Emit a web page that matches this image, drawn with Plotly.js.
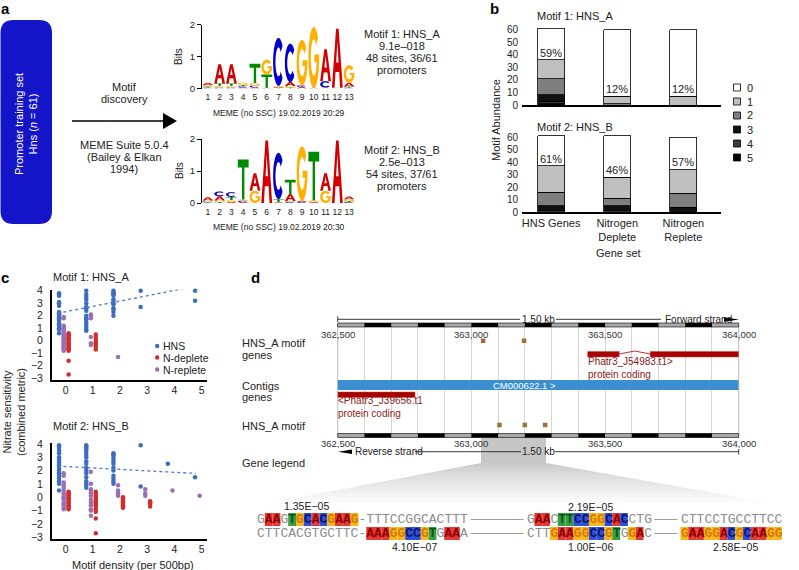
<!DOCTYPE html>
<html>
<head>
<meta charset="utf-8">
<script src="https://cdn.plot.ly/plotly-3.0.1.min.js"></script>
<style>html,body{margin:0;padding:0;background:#fff;}#chart{width:799px;height:570px;}</style>
</head>
<body>
<div id="chart"></div>
<script>
// ================= DATA =================
// Panel a: sequence logos (bits per base at motif positions 1..13)
const logoPositions = [1,2,3,4,5,6,7,8,9,10,11,12,13];
const logoA_A = [0.07,0.60,0.60,0.03,0.03,0.02,0.03,0.12,0.05,0.02,1.00,1.85,0.12];
const logoA_C = [0.03,0.03,0.03,0.04,0.06,0.00,1.50,1.20,0.05,0.00,0.20,0.00,0.03];
const logoA_G = [0.05,0.05,0.05,0.07,0.08,0.46,0.03,0.05,1.42,1.90,0.03,0.02,0.55];
const logoA_T = [0.03,0.08,0.08,0.04,0.60,0.42,0.02,0.03,0.00,0.00,0.00,0.00,0.03];
const logoB_A = [0.10,0.13,0.03,0.03,0.55,1.95,0.02,0.22,0.04,0.03,0.55,1.95,0.08];
const logoB_C = [0.03,0.15,0.15,0.04,0.00,0.00,1.45,0.03,0.03,0.00,0.00,0.00,0.03];
const logoB_G = [0.03,0.05,0.06,0.04,0.38,0.00,0.00,0.03,1.70,0.05,0.38,0.00,0.06];
const logoB_T = [0.02,0.03,0.10,1.25,0.00,0.00,0.10,0.45,0.00,1.52,0.00,0.00,0.03];

// Panel b: motif abundance (number of promoters with 0..5 motifs)
const geneSets = ['HNS Genes','Nitrogen<br>Deplete','Nitrogen<br>Replete'];
const abundanceLevels = ['0','1','2','3','4','5'];
const motifA_n0 = [25,53,53], motifA_n1 = [15,6,7], motifA_n2 = [13,1,0],
      motifA_n3 = [5,0,0],   motifA_n4 = [2,0,0],  motifA_n5 = [1,0,0];
const motifB_n0 = [24,33,26], motifB_n1 = [21,17,19], motifB_n2 = [11,6,11],
      motifB_n3 = [4,4,4],    motifB_n4 = [1,1,0],    motifB_n5 = [0,0,0];

// Panel c: nitrate sensitivity by motif density (index = motifs per 500bp)
const sensA_HNS = [
  [3.8,3.7,3.6,3.1,3.0,2.8,2.3,2.2,2.1,2.0,1.9,1.8,1.7,1.6,1.4,1.3,1.2,1.0,0.9,0.6],
  [4.0,3.7,3.5,3.3,3.0,2.7,2.6,2.4,2.0,1.8,1.7,1.5,1.3,1.1,0.9,0.8],
  [4.0,3.9,3.8,3.7,3.6,3.3,3.2,3.0,2.9,2.6,2.5,2.3,2.0],
  [4.0,2.7], [], [4.0,3.2]];
const sensA_Ndeplete = [
  [0.6,0.5,0.4,0.3,0.2,0.1,0.0,-0.1,-0.2,-0.3,-0.4,-0.5,-0.6,-0.7,-0.8,-1.6,-2.7],
  [0.5,0.3,0.1,-0.1,-0.2,-0.35,-0.5,-0.7], [], [], [], []];
const sensA_Nreplete = [
  [1.9,1.8,1.2,1.1,1.0,0.9,0.8,0.7,0.6,0.5,0.4,0.3,0.2,0.1,0.0,-0.1,-0.2,-0.3,-0.4,-0.5,-0.6,-0.7,-0.8],
  [2.1,2.0,1.8,0.3,-0.2,-0.35], [-1.3], [], [], []];
const sensB_HNS = [
  [3.9,3.8,3.7,3.5,3.3,3.0,2.8,2.6,2.4,2.2,2.0,1.8,1.6,1.4,1.2,1.0,0.5],
  [3.9,3.8,3.7,3.6,3.4,3.2,3.0,2.7,2.5,2.2,2.0,1.8,1.5,1.2,1.0,0.9,0.7],
  [3.3,3.2,3.1,2.9,2.7,2.5,2.2,2.0,1.6,1.4,1.2,1.0],
  [3.9,0.8], [2.5], [1.5]];
const sensB_Ndeplete = [
  [0.4,0.3,0.2,0.1,0.0,-0.1,-0.2,-0.3,-0.4,-0.5,-0.6,-0.7,-0.8,-0.9],
  [0.4,0.3,0.1,0.0,-0.2,-0.3,-0.4,-0.5,-0.6,-0.7,-0.9,-1.1,-1.6,-2.7],
  [0.0,-0.1,-0.2,-0.3,-0.4,-0.5,-0.6,-0.7,-0.8],
  [-0.3,-0.4,-0.5,-0.7], [], []];
const sensB_Nreplete = [
  [1.8,1.6,1.1,0.9,0.7,0.5,0.3,0.1,0.0,-0.1,-0.2,-0.4,-0.5,-0.6,-0.8,-0.9],
  [1.9,1.0,0.6,0.5,0.3,0.1,-0.2,-0.4,-0.6,-0.9,-1.0,-1.4],
  [0.9,0.5,0.3,0.1], [0.6,0.3,0.1], [0.5], [0.1]];
const trendA_x = [-0.3, 4.3], trendA_y = [2.2, 4.15];
const trendB_x = [-0.3, 4.8], trendB_y = [2.33, 1.78];
const densityTicks = [0,1,2,3,4,5];
const sensTicks = [-3,-2,-1,0,1,2,3,4];

// Panel d: genome browser (bp)
const browserRange = [362500, 364000];
const rulerTicks = [362500, 363000, 363500, 364000];
const motifGeneTrackSites = [363044, 363197];
const motifTrackSites = [363105, 363200, 363276];
const geneJ54983_exonStart = [363435, 363669];
const geneJ54983_exonEnd = [363553, 364000];
const geneJ39656_span = [362500, 362789];
const contigSpan = [362500, 364000];
const zoomRegion = [363036, 363279];
const seqRow1 = ['GAAGTGCACGAAG-TTTCCGGCACTTT','GAACTTCCGGCACCTG','CTTCCTGCCTTCC'];
const seqRow1Mask = ['0110111111111-0000000000000','0110111111111000','0000000000000'];
const seqRow2 = ['CTTCACGTGCTTC-AAAGGCCGTGAAA','CTTGAAGGCCGTGGAC','GAAGGACGCAAGG'];
const seqRow2Mask = ['0000000000000-1111111110110','0001111111110110','1111111111111'];
const pvalTop = ['1.35E\u221205','2.19E\u221205'];
const pvalBottom = ['4.10E\u221207','1.00E\u221206','2.58E\u221205'];

// ================= HELPERS =================
const W = 799, H = 570;
const X = p => p / W, Y = p => 1 - p / H;
const FONT = 'Liberation Sans, Arial, Helvetica, sans-serif';
const traces = [], shapes = [], annotations = [];
function txt(text, x, y, o) {
  o = o || {};
  const a = {text: o.bold ? '<b>' + text + '</b>' : text, xref:'paper', yref:'paper', x:X(x), y:Y(y),
    showarrow:false, xanchor:o.xanchor||'center', yanchor:o.yanchor||'middle', borderpad:0, borderwidth:0,
    font:{family:o.family||FONT, size:o.size||11, color:o.color||'#222'}};
  if (o.textangle !== undefined) a.textangle = o.textangle;
  annotations.push(a);
}
function P(pts){ return pts.map((p,i)=>(i?'L':'M')+X(p[0]).toFixed(5)+','+Y(p[1]).toFixed(5)).join(' ')+' Z'; }
function pathShape(pts, color, layer){ shapes.push({type:'path', xref:'paper', yref:'paper', path:P(pts), fillcolor:color, line:{width:0}, layer:layer||'above'}); }
function lineShape(x0,y0,x1,y1,color,w,dash){ shapes.push({type:'line', xref:'paper', yref:'paper', x0:X(x0), y0:Y(y0), x1:X(x1), y1:Y(y1), line:{color:color, width:w, dash:dash||'solid'}}); }
function rectShape(x0,y0,x1,y1,fill,lc,lw){ shapes.push({type:'rect', xref:'paper', yref:'paper', x0:X(x0), y0:Y(y1), x1:X(x1), y1:Y(y0), fillcolor:fill, line:{color:lc||fill, width:lw||0}}); }
const axBase = {showgrid:false, zeroline:false, fixedrange:true};
const layout = {width:W, height:H, margin:{l:0,r:0,t:0,b:0}, paper_bgcolor:'#fff', plot_bgcolor:'rgba(0,0,0,0)',
  showlegend:false, barmode:'stack', font:{family:FONT, size:11, color:'#222'}};

// ================= PANEL A =================
txt('a', 5, 8, {bold:true, size:15, color:'#000'});
(function(){
  const x0=0.5,y0=20,x1=52,y1=224,r=13;
  const q=(a,b)=>X(a).toFixed(5)+','+Y(b).toFixed(5);
  const path = 'M'+q(x0+r,y0)+' L'+q(x1-r,y0)+' Q'+q(x1,y0)+' '+q(x1,y0+r)+' L'+q(x1,y1-r)+' Q'+q(x1,y1)+' '+q(x1-r,y1)+
    ' L'+q(x0+r,y1)+' Q'+q(x0,y1)+' '+q(x0,y1-r)+' L'+q(x0,y0+r)+' Q'+q(x0,y0)+' '+q(x0+r,y0)+' Z';
  shapes.push({type:'path', xref:'paper', yref:'paper', path:path, fillcolor:'#1414c8', line:{width:0}, layer:'below'});
})();
txt('Promoter training set<br>Hns (<i>n</i> = 61)', 26, 124, {textangle:-90, color:'#ffffff', size:11});
lineShape(72,121,165,121,'#000',1.6);
pathShape([[163,113],[177,121],[163,129]], '#000');
txt('Motif', 124, 87); txt('discovery', 124, 99);
txt('MEME Suite 5.0.4', 124, 145); txt('(Bailey &amp; Elkan', 124, 157); txt('1994)', 124, 169);

const baseColor = {A:'#d40000', C:'#0000c8', G:'#ffb000', T:'#008a00'};
function glyph(L){
  const E=(cx,cy,rx,ry,t)=>[cx+rx*Math.cos(t*Math.PI/180), cy+ry*Math.sin(t*Math.PI/180)];
  if(L==='A') return [[[0,0],[0.38,1],[0.62,1],[1,0],[0.76,0],[0.67,0.27],[0.33,0.27],[0.24,0]],[[0.39,0.43],[0.5,0.78],[0.61,0.43]]];
  if(L==='T') return [[[0,1],[1,1],[1,0.8],[0.61,0.8],[0.61,0],[0.39,0],[0.39,0.8],[0,0.8]]];
  if(L==='C'){ const p=[]; for(let t=42;t<=318;t+=6) p.push(E(0.5,0.5,0.5,0.5,t)); for(let t=318;t>=42;t-=6) p.push(E(0.5,0.5,0.28,0.3,t)); return [p]; }
  const p=[]; for(let t=40;t<=360;t+=6) p.push(E(0.5,0.5,0.5,0.5,t));
  p.push([1,0.55],[0.55,0.55],[0.55,0.42],[0.79,0.42]);
  for(let t=335;t>=40;t-=6) p.push(E(0.5,0.5,0.28,0.3,t));
  return [p];
}
function addLogo(xa, ya, arrA, arrC, arrG, arrT){
  logoPositions.forEach((pos,i)=>{
    const stack=[['A',arrA[i]],['C',arrC[i]],['G',arrG[i]],['T',arrT[i]]].filter(s=>s[1]>0.004).sort((a,b)=>a[1]-b[1]);
    let base=0;
    stack.forEach(([L,h])=>{
      const path = glyph(L).map(poly=>poly.map((uv,k)=>(k?'L':'M')+(pos-0.46+uv[0]*0.92).toFixed(4)+','+(base+uv[1]*h).toFixed(4)).join(' ')+' Z').join(' ');
      shapes.push({type:'path', xref:xa, yref:ya, path:path, fillcolor:baseColor[L], line:{width:0}, fillrule:'evenodd'});
      base+=h;
    });
  });
  traces.push({type:'scatter', x:logoPositions, y:logoPositions.map((p,i)=>arrA[i]+arrC[i]+arrG[i]+arrT[i]), mode:'markers',
    marker:{opacity:0}, xaxis:xa, yaxis:ya, hoverinfo:'skip'});
}
addLogo('x','y',logoA_A,logoA_C,logoA_G,logoA_T);
addLogo('x2','y2',logoB_A,logoB_C,logoB_G,logoB_T);
const logoX = () => Object.assign({}, axBase, {domain:[X(202),X(355)], range:[0.5,13.5], tickvals:logoPositions, ticks:'', showline:false, tickfont:{size:8.5, color:'#222'}, ticklabelstandoff:2});
const logoY = d => Object.assign({}, axBase, {domain:d, range:[0,2], tickvals:[0,1,2], ticks:'outside', ticklen:4, tickcolor:'#000', showline:true, linecolor:'#000', linewidth:1, tickfont:{size:9.5, color:'#222'}});
layout.xaxis = Object.assign(logoX(), {anchor:'y'});
layout.yaxis = Object.assign(logoY([Y(88.5),Y(24.5)]), {anchor:'x'});
layout.xaxis2 = Object.assign(logoX(), {anchor:'y2'});
layout.yaxis2 = Object.assign(logoY([Y(203),Y(139)]), {anchor:'x2'});
txt('Bits', 179, 57, {textangle:-90, size:10});
txt('Bits', 179, 171, {textangle:-90, size:10});
txt('MEME (no SSC) 19.02.2019 20:29', 279, 113, {size:8.5});
txt('MEME (no SSC) 19.02.2019 20:30', 279, 227, {size:8.5});
txt('Motif 1: HNS_A', 402, 34); txt('9.1e\u2013018', 402, 46); txt('48 sites, 36/61', 402, 58); txt('promoters', 402, 70);
txt('Motif 2: HNS_B', 402, 150); txt('2.5e\u2013013', 402, 162); txt('54 sites, 37/61', 402, 174); txt('promoters', 402, 186);

// ================= PANEL B =================
txt('b', 494, 8, {bold:true, size:15, color:'#000'});
const levelColors = ['#ffffff','#bfbfbf','#7f7f7f','#111111','#3a3a3a','#000000'];
const motifA_counts = [motifA_n0,motifA_n1,motifA_n2,motifA_n3,motifA_n4,motifA_n5];
const motifB_counts = [motifB_n0,motifB_n1,motifB_n2,motifB_n3,motifB_n4,motifB_n5];
function addBars(counts, xa, ya){
  for(let k=5;k>=0;k--){
    traces.push({type:'bar', x:geneSets, y:counts[k], name:abundanceLevels[k], xaxis:xa, yaxis:ya, width:0.41,
      marker:{color:levelColors[k], line:{color:'#000', width:0.8}}, hoverinfo:'skip'});
  }
  geneSets.forEach((g,i)=>{
    const total = counts.reduce((s,c)=>s+c[i],0), nonzero = total-counts[0][i];
    annotations.push({text:Math.round(100*nonzero/total)+'%', xref:xa, yref:ya, x:i, y:nonzero, yanchor:'bottom', yshift:1,
      showarrow:false, borderpad:0, borderwidth:0, font:{family:FONT, size:11, color:'#222'}});
  });
}
addBars(motifA_counts,'x3','y3');
addBars(motifB_counts,'x4','y4');
const barX = () => Object.assign({}, axBase, {domain:[X(522),X(721)], range:[-0.44,2.57], type:'category', showline:true, linecolor:'#000', linewidth:1.8, ticks:''});
const barY = d => Object.assign({}, axBase, {domain:d, range:[0,62], tickvals:[0,10,20,30,40,50,60], ticks:'', showline:false, tickfont:{size:10, color:'#222'}, ticklabelstandoff:3});
layout.xaxis3 = Object.assign(barX(), {anchor:'y3', showticklabels:false});
layout.yaxis3 = Object.assign(barY([Y(105),Y(27)]), {anchor:'x3'});
layout.xaxis4 = Object.assign(barX(), {anchor:'y4', tickfont:{size:11, color:'#222'}});
layout.yaxis4 = Object.assign(barY([Y(212),Y(134.5)]), {anchor:'x4'});
txt('Motif 1: HNS_A', 537, 16, {xanchor:'left'});
txt('Motif 2: HNS_B', 537, 127, {xanchor:'left'});
txt('Motif Abundance', 496, 120, {textangle:-90});
txt('Gene set', 618, 253);
const legRows = [87.5,101.5,115.5,129.5,143.5,157.5];
abundanceLevels.forEach((lv,k)=>{
  rectShape(733.5, legRows[k]-3.5, 740.5, legRows[k]+3.5, levelColors[k], '#000', 0.8);
  txt(lv, 747, legRows[k], {xanchor:'left'});
});

// ================= PANEL C =================
txt('c', 5, 277, {bold:true, size:15, color:'#000'});
const seriesStyle = [
  {name:'HNS', color:'#3d6cc0', off:-0.24},
  {name:'N-deplete', color:'#cf2f2c', off:0.11},
  {name:'N-replete', color:'#9a70b2', off:-0.07}];
function flat(byD, off){ const xs=[],ys=[]; byD.forEach((arr,d)=>arr.forEach(v=>{xs.push(d+off);ys.push(v);})); return [xs,ys]; }
function addScatter(list, xa, ya, tx, ty){
  [2,1,0].forEach(si=>{
    const [xs,ys] = flat(list[si], seriesStyle[si].off);
    traces.push({type:'scatter', mode:'markers', x:xs, y:ys, xaxis:xa, yaxis:ya, name:seriesStyle[si].name,
      marker:{color:seriesStyle[si].color, size:4.5}, hoverinfo:'skip', cliponaxis:false});
  });
  traces.push({type:'scatter', mode:'lines', x:tx, y:ty, xaxis:xa, yaxis:ya, line:{color:'#4a7acb', width:1.3, dash:'dot'}, hoverinfo:'skip'});
}
addScatter([sensA_HNS,sensA_Ndeplete,sensA_Nreplete],'x5','y5',trendA_x,trendA_y);
addScatter([sensB_HNS,sensB_Ndeplete,sensB_Nreplete],'x6','y6',trendB_x,trendB_y);
const scX = () => Object.assign({}, axBase, {domain:[X(52),X(207)], range:[-0.5,5.2], tickvals:densityTicks, ticks:'', showline:true, linecolor:'#000', linewidth:2, tickfont:{size:10.5, color:'#222'}, ticklabelstandoff:0});
const scY = d => Object.assign({}, axBase, {domain:d, range:[-3.1,4.1], tickvals:sensTicks, ticks:'', showline:true, linecolor:'#000', linewidth:2, tickfont:{size:10.5, color:'#222'}, ticklabelstandoff:5});
layout.xaxis5 = Object.assign(scX(), {anchor:'y5'});
layout.yaxis5 = Object.assign(scY([Y(379.5),Y(289.5)]), {anchor:'x5'});
layout.xaxis6 = Object.assign(scX(), {anchor:'y6'});
layout.yaxis6 = Object.assign(scY([Y(538.5),Y(442.5)]), {anchor:'x6'});
txt('Motif 1: HNS_A', 91, 277);
txt('Motif 2: HNS_B', 91, 426);
txt('Nitrate sensitivity<br>(combined metric)', 14, 412, {textangle:-90});
txt('Motif density (per 500bp)', 133, 564.5);
[346, 357.5, 369.5].forEach((yy,i)=>{
  shapes.push({type:'circle', xref:'paper', yref:'paper', x0:X(155), x1:X(159.4), y0:Y(yy+2.2), y1:Y(yy-2.2), fillcolor:seriesStyle[i].color, line:{width:0}});
  txt(seriesStyle[i].name, 163, yy, {xanchor:'left', size:10.5});
});

// ================= PANEL D =================
txt('d', 255, 277, {bold:true, size:15, color:'#000'});
const BX0 = 337.7, BX1 = 738.7;
const bpToPx = bp => BX0 + (bp - browserRange[0]) * (BX1 - BX0) / (browserRange[1] - browserRange[0]);
[['HNS_A motif',342.7],['genes',355],['Contigs',386],['genes',397.5],['HNS_A motif',426],['Gene legend',462.7]].forEach(l=>txt(l[0],242,l[1],{xanchor:'left'}));
layout.xaxis7 = Object.assign({}, axBase, {domain:[X(BX0),X(BX1)], range:browserRange, anchor:'y7', showticklabels:false, ticks:'',
  showgrid:true, gridcolor:'#d6d6d6', gridwidth:1, dtick:500, tick0:browserRange[0],
  minor:{dtick:100, tick0:browserRange[0], showgrid:true, gridcolor:'#d6d6d6', gridwidth:1}, showline:false});
layout.yaxis7 = Object.assign({}, axBase, {domain:[Y(436),Y(325)], range:[436,325], anchor:'x7', visible:false});
lineShape(BX0,325,BX0,436,'#bbbbbb',1); lineShape(BX1,325,BX1,436,'#bbbbbb',1);
function ruler(yTop){
  rectShape(BX0, yTop, BX1, yTop+4, '#a8a8a8', '#000', 0.6);
  for(let b=browserRange[0], k=0; b<browserRange[1]; b+=100, k++){
    if(k%2===1) rectShape(bpToPx(b), yTop, bpToPx(b+100), yTop+4, '#000');
  }
}
ruler(323); ruler(433.5);
rulerTicks.forEach(t=>{
  const lab = t.toLocaleString('en-US');
  annotations.push({text:lab, xref:'x7', yref:'paper', x:t, y:Y(334), showarrow:false, xanchor:'center', yanchor:'middle', borderpad:0, borderwidth:0, font:{family:FONT, size:9.5, color:'#333'}});
  annotations.push({text:lab, xref:'x7', yref:'paper', x:t, y:Y(443.5), showarrow:false, xanchor:'center', yanchor:'middle', borderpad:0, borderwidth:0, font:{family:FONT, size:9.5, color:'#333'}});
});
const spanLabel = ((browserRange[1]-browserRange[0])/1000).toFixed(2)+' kb';
lineShape(BX0,319.3,520,319.3,'#222',0.9); lineShape(BX0,316.5,BX0,322,'#222',0.9);
txt(spanLabel, 538, 319.3, {size:10});
lineShape(556,319.3,661,319.3,'#222',0.9);
txt('Forward strand', 665, 319.3, {xanchor:'left', size:10});
pathShape([[724,317.2],[739,319.5],[724,321.8]], '#000');
pathShape([[338,451.7],[352,449.4],[352,454]], '#000');
txt('Reverse strand', 355, 451.7, {xanchor:'left', size:10});
lineShape(415,451.7,521,451.7,'#222',0.9);
txt(spanLabel, 538, 451.7, {size:10});
lineShape(555,451.7,BX1,451.7,'#222',0.9); lineShape(BX1,449,BX1,454.5,'#222',0.9);
traces.push({type:'scatter', mode:'markers', x:motifGeneTrackSites, y:motifGeneTrackSites.map(()=>340.7), xaxis:'x7', yaxis:'y7',
  marker:{symbol:'square', size:4.5, color:'#a0703c'}, hoverinfo:'skip'});
traces.push({type:'scatter', mode:'markers', x:motifTrackSites, y:motifTrackSites.map(()=>425), xaxis:'x7', yaxis:'y7',
  marker:{symbol:'square', size:4.5, color:'#a0703c'}, hoverinfo:'skip'});
geneJ54983_exonStart.forEach((s,i)=>{
  shapes.push({type:'rect', xref:'x7', yref:'y7', x0:s, x1:geneJ54983_exonEnd[i], y0:351.5, y1:357, fillcolor:'#a80000', line:{color:'#c44', width:0.5}});
});
(function(){
  const a=geneJ54983_exonEnd[0], b=geneJ54983_exonStart[1], m=(a+b)/2;
  shapes.push({type:'path', xref:'x7', yref:'y7', path:`M${a},354 L${m},351 L${b},354`, line:{color:'#a80000', width:0.8}});
})();
annotations.push({text:'Phatr3_J54983.t1&gt;<br>protein coding', xref:'x7', yref:'y7', x:geneJ54983_exonStart[0], y:367.5, xanchor:'left', yanchor:'middle', align:'left', showarrow:false, borderpad:0, borderwidth:0, font:{family:FONT, size:10, color:'#8b1a1a'}});
shapes.push({type:'rect', xref:'x7', yref:'y7', x0:contigSpan[0], x1:contigSpan[1], y0:380, y1:390, fillcolor:'#3b8fd0', line:{width:0}});
annotations.push({text:'CM000622.1 &gt;', xref:'x7', yref:'y7', x:363200, y:385, showarrow:false, borderpad:0, borderwidth:0, font:{family:FONT, size:9.5, color:'#ffffff'}});
shapes.push({type:'rect', xref:'x7', yref:'y7', x0:geneJ39656_span[0], x1:geneJ39656_span[1], y0:392, y1:397.5, fillcolor:'#a80000', line:{color:'#c44', width:0.5}});
annotations.push({text:'&lt;Phatr3_J39656.t1<br>protein coding', xref:'x7', yref:'y7', x:geneJ39656_span[0], y:407, xanchor:'left', yanchor:'middle', align:'left', showarrow:false, borderpad:0, borderwidth:0, font:{family:FONT, size:10, color:'#8b1a1a'}});
(function(){
  const l=bpToPx(zoomRegion[0]), r=bpToPx(zoomRegion[1]);
  shapes.push({type:'rect', xref:'paper', yref:'paper', x0:X(l), x1:X(r), y0:Y(463.5), y1:Y(437.5), fillcolor:'#c6c6c6', line:{width:0}, layer:'below'});
  const gTop=463, gBot=505, bl=258, br=783, N=16;
  for(let i=0;i<N;i++){
    const t0=i/N, t1=Math.min(1,(i+1.15)/N);
    const yA=gTop+(gBot-gTop)*t0, yB=gTop+(gBot-gTop)*t1;
    const lA=l+(bl-l)*t0, lB=l+(bl-l)*t1, rA=r+(br-r)*t0, rB=r+(br-r)*t1;
    const c=Math.round(198+(255-198)*Math.pow((i+0.5)/N,0.8));
    pathShape([[lA,yA],[rA,yA],[rB,yB],[lB,yB]], `rgb(${c},${c},${c})`, 'below');
  }
})();
const seqStartPx = [257, 526.5, 680.5];
const CW = 7.8;
const baseBg = {A:'#e23a36', C:'#2f4fd8', G:'#f6b81c', T:'#35a043'};
const baseFg = {A:'#8e0000', C:'#0c1670', G:'#d97a00', T:'#0d5516'};
function drawSeqRow(segs, masks, rowY){
  segs.forEach((s,si)=>{
    const x0 = seqStartPx[si];
    let html='';
    for(let i=0;i<s.length;i++){
      const ch=s[i], hi=masks[si][i]==='1';
      if(hi){
        shapes.push({type:'rect', xref:'paper', yref:'paper', x0:X(x0+i*CW), x1:X(x0+(i+1)*CW), y0:Y(rowY+6.5), y1:Y(rowY-6.5), fillcolor:baseBg[ch], line:{width:0}});
        html+=`<span style="color:${baseFg[ch]}"><b>${ch}</b></span>`;
      } else html+=ch;
    }
    annotations.push({text:html, xref:'paper', yref:'paper', x:X(x0), y:Y(rowY), xanchor:'left', yanchor:'middle', showarrow:false, borderpad:0, borderwidth:0,
      font:{family:'Liberation Mono, DejaVu Sans Mono, monospace', size:13, color:'#8c8c8c'}});
    if(si<segs.length-1){
      lineShape(x0+s.length*CW+3, rowY, seqStartPx[si+1]-3, rowY, '#a0a0a0', 1);
    }
  });
}
drawSeqRow(seqRow1, seqRow1Mask, 519.5);
drawSeqRow(seqRow2, seqRow2Mask, 533.5);
txt(pvalTop[0], 306.7, 506, {size:10.5}); txt(pvalTop[1], 590, 507, {size:10.5});
txt(pvalBottom[0], 415, 547, {size:10.5}); txt(pvalBottom[1], 590, 547, {size:10.5}); txt(pvalBottom[2], 735, 547, {size:10.5});

layout.shapes = shapes;
layout.annotations = annotations;
Plotly.newPlot('chart', traces, layout, {staticPlot:true, displayModeBar:false});
</script>
</body>
</html>
